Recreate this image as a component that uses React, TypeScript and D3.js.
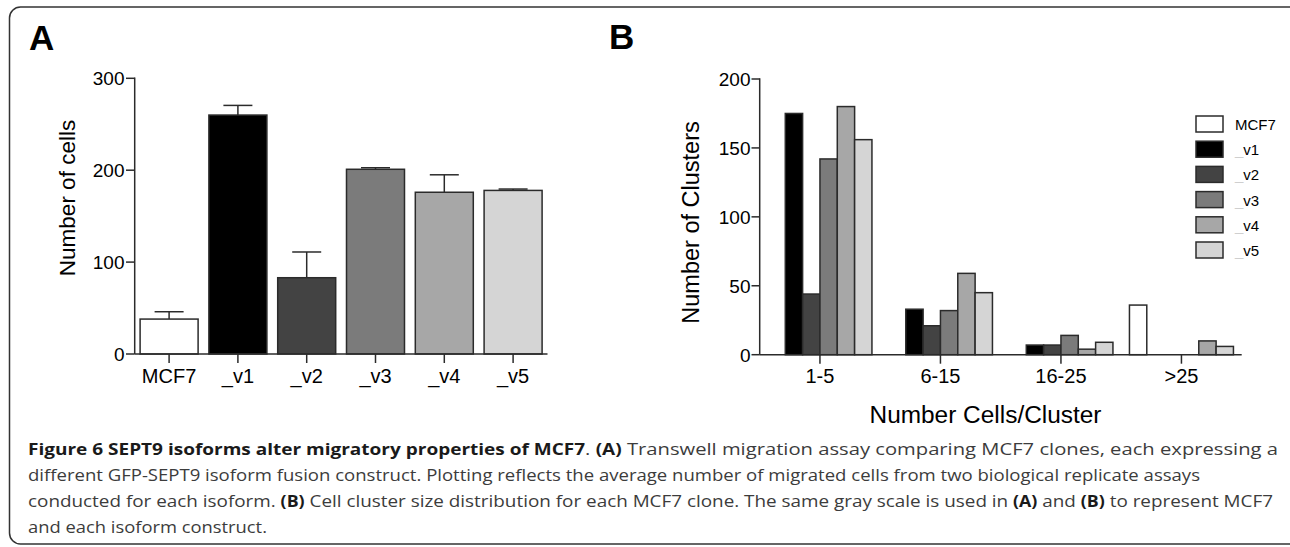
import React from "react";
import * as d3 from "d3";

// ---------- Data ----------
const categoriesA = ["MCF7", "_v1", "_v2", "_v3", "_v4", "_v5"];
const meansA = [38, 260, 83, 201, 176, 178];
const errUpA = [8, 10.5, 28, 1.7, 19, 1.5];
const ticksA = [0, 100, 200, 300];

const groupsB = ["1-5", "6-15", "16-25", ">25"];
const seriesB = ["MCF7", "_v1", "_v2", "_v3", "_v4", "_v5"];
const mcf7B = [0, 0, 0, 36];
const v1B = [175, 33, 7, 0];
const v2B = [44, 21, 7, 0];
const v3B = [142, 32, 14, 0];
const v4B = [180, 59, 4, 10];
const v5B = [156, 45, 9, 6];
const ticksB = [0, 50, 100, 150, 200];

const captionLines: { t: string; b?: boolean }[][] = [
  [
    { t: "Figure 6 SEPT9 isoforms alter migratory properties of MCF7", b: true },
    { t: ". " },
    { t: "(A)", b: true },
    { t: " Transwell migration assay comparing MCF7 clones, each expressing a" },
  ],
  [
    {
      t: "different GFP-SEPT9 isoform fusion construct. Plotting reflects the average number of migrated cells from two biological replicate assays",
    },
  ],
  [
    { t: "conducted for each isoform. " },
    { t: "(B)", b: true },
    { t: " Cell cluster size distribution for each MCF7 clone. The same gray scale is used in " },
    { t: "(A)", b: true },
    { t: " and " },
    { t: "(B)", b: true },
    { t: " to represent MCF7" },
  ],
  [{ t: "and each isoform construct." }],
];

// ---------- Styles ----------
const greys = ["#ffffff", "#000000", "#434343", "#7b7b7b", "#a7a7a7", "#d5d5d5"];
const INK = "#2b2b2b";
const FONT = "'Liberation Sans', Arial, Helvetica, sans-serif";
const CAP_FONT = "'Open Sans', 'Noto Sans', sans-serif";

export default function App() {
  // Panel A scales
  const xA = d3
    .scaleBand<string>()
    .domain(categoriesA)
    .range([134.7, 547.5])
    .paddingInner(0.157)
    .paddingOuter(0.0785);
  const yA = d3.scaleLinear().domain([0, 300]).range([354, 78.3]);

  // Panel B scales
  const xB = d3
    .scaleBand<string>()
    .domain(groupsB)
    .range([759.7, 1241.7])
    .paddingInner(0.137)
    .paddingOuter(0.0685);
  const xBin = d3.scaleBand<string>().domain(seriesB).range([0, xB.bandwidth()]);
  const yB = d3.scaleLinear().domain([0, 200]).range([354.7, 79]);
  const valuesB = [mcf7B, v1B, v2B, v3B, v4B, v5B];

  const legendRowY = d3.scalePoint<string>().domain(seriesB).range([124, 250]);

  const captionLens = [1250, 1172, 1245, 239];
  const captionY = [454.5, 480.8, 507, 533.3];

  return (
    <svg
      width={1290}
      height={547}
      style={{ position: "absolute", left: 0, top: 0, background: "#fff" }}
      fontFamily={FONT}
    >
      <rect x={0} y={0} width={1290} height={547} fill="#fff" />
      {/* frame */}
      <rect
        x={9.5}
        y={7}
        width={1292}
        height={537}
        rx={11}
        fill="none"
        stroke="#333"
        strokeWidth={1.5}
      />

      {/* Panel letters */}
      <text x={29} y={50} fontSize={35} fontWeight="bold" fill="#000">
        A
      </text>
      <text x={609} y={49} fontSize={35} fontWeight="bold" fill="#000">
        B
      </text>

      {/* ---------- Panel A ---------- */}
      <g>
        {categoriesA.map((c, i) => {
          const x0 = xA(c)!;
          const w = xA.bandwidth();
          const cx = x0 + w / 2;
          const top = yA(meansA[i]);
          const errTop = yA(meansA[i] + errUpA[i]);
          return (
            <g key={c}>
              <line x1={cx} x2={cx} y1={top} y2={errTop} stroke={INK} strokeWidth={1.5} />
              <line
                x1={cx - w / 4}
                x2={cx + w / 4}
                y1={errTop}
                y2={errTop}
                stroke={INK}
                strokeWidth={1.5}
              />
              <rect
                x={x0}
                y={top}
                width={w}
                height={yA(0) - top}
                fill={greys[i]}
                stroke={INK}
                strokeWidth={1.5}
              />
            </g>
          );
        })}
        {/* axes */}
        <line x1={134.7} x2={134.7} y1={yA(300) - 0.75} y2={yA(0)} stroke={INK} strokeWidth={1.5} />
        <line x1={134.7} x2={547.5} y1={yA(0)} y2={yA(0)} stroke={INK} strokeWidth={1.5} />
        {ticksA.map((t) => (
          <g key={t}>
            <line x1={126} x2={134.7} y1={yA(t)} y2={yA(t)} stroke={INK} strokeWidth={1.5} />
            <text x={124.5} y={yA(t) + 6.8} textAnchor="end" fontSize={19} fill="#000">
              {t}
            </text>
          </g>
        ))}
        {categoriesA.map((c) => {
          const cx = xA(c)! + xA.bandwidth() / 2;
          return (
            <g key={c}>
              <line x1={cx} x2={cx} y1={yA(0)} y2={yA(0) + 9} stroke={INK} strokeWidth={1.5} />
              <text x={cx} y={382.5} textAnchor="middle" fontSize={20} fill="#000">
                {c}
              </text>
            </g>
          );
        })}
        <text
          transform="translate(75,198) rotate(-90)"
          textAnchor="middle"
          fontSize={22.5}
          fill="#000"
        >
          Number of cells
        </text>
      </g>

      {/* ---------- Panel B ---------- */}
      <g>
        {groupsB.map((g, gi) => (
          <g key={g} transform={`translate(${xB(g)},0)`}>
            {seriesB.map((s, si) => {
              const v = valuesB[si][gi];
              if (!v) return null;
              const top = yB(v);
              return (
                <rect
                  key={s}
                  x={xBin(s)!}
                  y={top}
                  width={xBin.bandwidth()}
                  height={yB(0) - top}
                  fill={greys[si]}
                  stroke={INK}
                  strokeWidth={1.5}
                />
              );
            })}
          </g>
        ))}
        <line x1={759.7} x2={759.7} y1={yB(200) - 0.75} y2={yB(0)} stroke={INK} strokeWidth={1.5} />
        <line x1={759.7} x2={1241.7} y1={yB(0)} y2={yB(0)} stroke={INK} strokeWidth={1.5} />
        {ticksB.map((t) => (
          <g key={t}>
            <line x1={751.5} x2={759.7} y1={yB(t)} y2={yB(t)} stroke={INK} strokeWidth={1.5} />
            <text x={750.5} y={yB(t) + 6.8} textAnchor="end" fontSize={19} fill="#000">
              {t}
            </text>
          </g>
        ))}
        {groupsB.map((g) => {
          const cx = xB(g)! + xB.bandwidth() / 2;
          return (
            <g key={g}>
              <line x1={cx} x2={cx} y1={yB(0)} y2={yB(0) + 9} stroke={INK} strokeWidth={1.5} />
              <text x={cx} y={383} textAnchor="middle" fontSize={20} fill="#000">
                {g}
              </text>
            </g>
          );
        })}
        <text
          transform="translate(698.5,222.5) rotate(-90)"
          textAnchor="middle"
          fontSize={23.5}
          fill="#000"
        >
          Number of Clusters
        </text>
        <text
          x={985.5}
          y={423}
          textAnchor="middle"
          fontSize={23}
          fill="#000"
          textLength={232}
          lengthAdjust="spacingAndGlyphs"
        >
          Number Cells/Cluster
        </text>

        {/* legend */}
        {seriesB.map((s, i) => {
          const cy = legendRowY(s)!;
          return (
            <g key={s}>
              <rect
                x={1196}
                y={cy - 8}
                width={27}
                height={16}
                fill={greys[i]}
                stroke={INK}
                strokeWidth={1.5}
              />
              <text x={1235} y={cy + 6} fontSize={15} fill="#000">
                {s.startsWith("_") ? (
                  <>
                    <tspan fill="#cfcfcf">_</tspan>
                    {s.slice(1)}
                  </>
                ) : (
                  s
                )}
              </text>
            </g>
          );
        })}
      </g>

      {/* ---------- Caption ---------- */}
      {captionLines.map((line, li) => (
        <text
          key={li}
          x={28}
          y={captionY[li]}
          fontFamily={CAP_FONT}
          fontSize={17}
          fill="#3c3c3c"
          textLength={captionLens[li]}
          lengthAdjust="spacingAndGlyphs"
        >
          {line.map((seg, si) => (
            <tspan
              key={si}
              fontWeight={seg.b ? "bold" : "normal"}
              fontSize={seg.b ? 16 : 17}
              fill={seg.b ? "#1a1a1a" : "#3c3c3c"}
            >
              {seg.t}
            </tspan>
          ))}
        </text>
      ))}
    </svg>
  );
}
